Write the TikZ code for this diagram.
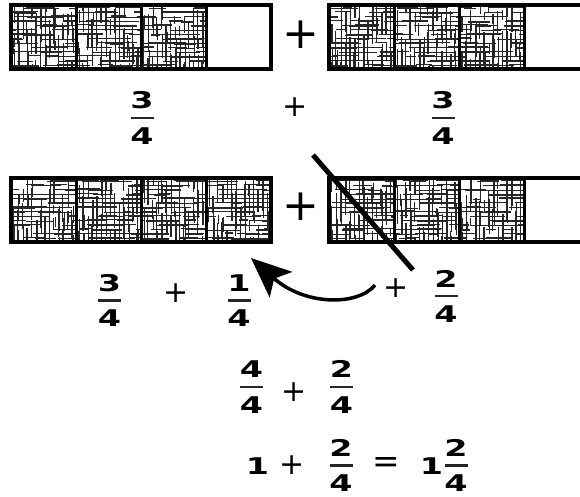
\documentclass[tikz,border=0pt]{standalone}
\usepackage{fontspec}
\usetikzlibrary{arrows.meta, positioning}
\newfontfamily\digfont{DejaVu Sans}[FakeStretch=1.45]
\newfontfamily\opfont{DejaVu Sans}

% one shaded cell: broken grid strokes, clipped to the cell
\newcommand{\hatchcell}[2]{%
  \begin{scope}
    \clip ({#1},{#2}) rectangle ++(65,64);
    \foreach \j in {0,...,13} {
      \foreach \s in {1,...,4} {
        \draw[hatch] ({#1+70*rnd-8},{#2+3+4.4*\j+0.8*rand}) -- ++({8+30*rnd},0);
        \draw[hatch] ({#1+3+4.5*\j+0.8*rand},{#2+70*rnd-8}) -- ++(0,{8+30*rnd});
      }
    }
  \end{scope}}
% a strip of four quarters, #3 of them shaded
\newcommand{\strip}[3]{%
  \foreach \c in {1,...,#3} {\hatchcell{#1+65*(\c-1)}{#2}}
  \foreach \c in {0,...,3} {\draw[cell] ({#1+65*\c},{#2}) rectangle ++(65,64);}
  \draw[line width=4pt] ({#1},{#2}) rectangle ++(260,64);}
% fraction: bar node #1 at #2, numerator #3, denominator #4
\newcommand{\frc}[4]{%
  \node[fbar] (#1) at (#2) {};
  \node[num, above=7.5pt of #1] (#1n) {#3};
  \node[num, below=8pt of #1] (#1d) {#4};}

\begin{document}
\begin{tikzpicture}[x=1pt, y=-1pt,
    num/.style={font=\digfont\bfseries\fontsize{23}{23}\selectfont, inner sep=0pt, text height=16.8pt, text depth=0pt},
    fbar/.style={fill=black!85, inner sep=0pt, minimum width=23pt, minimum height=2.2pt},
    op/.style={font=\opfont\fontsize{30}{30}\selectfont, inner sep=0pt},
    bigop/.style={font=\opfont\fontsize{44}{44}\selectfont, inner sep=0pt},
    hatch/.style={line width=1.2pt, black!85},
    cell/.style={draw, line width=3pt}]
    \clip (0,0) rectangle (580,496);
    \fill[white] (0,0) rectangle (580,496);
    \pgfmathsetseed{11}

    % strips
    \strip{11}{5}{3}
    \strip{329}{5}{3}
    \strip{11}{178}{4}
    \strip{329}{178}{3}
    \node[bigop] (p1) at (301,35) {+};
    \node[bigop] (p2) at (301,207) {+};

    % first line
    \frc{a}{142,117.7}{3}{4}
    \node[op] (q1) at (295.5,107) {+};
    \frc{b}{443,117.7}{3}{4}

    % crossed out quarter and moved one
    \coordinate (s1) at (313,155);
    \coordinate (s2) at (413,270);
    \draw[line width=5pt] (s1) -- (s2);
    \coordinate (from) at (375,285);
    \coordinate (to) at (251,258);
    \draw[line width=3.5pt, -{Stealth[length=40pt, width=34pt, inset=9pt]}]
        (from) .. controls (358,306) and (305,306) .. (to);

    % second line
    \frc{c}{109.5,300.5}{3}{4}
    \node[op] (q2) at (176.5,293) {+};
    \frc{d}{239,300.5}{1}{4}
    \node[op] (q3) at (396.5,288) {+};
    \frc{e}{446,296}{2}{4}

    % third line
    \frc{f}{251.5,386.7}{4}{4}
    \node[op] (q4) at (294,392) {+};
    \frc{g}{341.5,386.7}{2}{4}

    % result
    \node[num] (one) at (257.5,466) {1};
    \node[op] (q5) at (292.5,465) {+};
    \frc{h}{341,465.5}{2}{4}
    \node[op, font=\opfont\fontsize{33}{33}\selectfont] (eq) at (386,465) {=};
    \node[num] (whole) at (431.5,466) {1};
    \frc{i}{456,465.5}{2}{4}
\end{tikzpicture}
\end{document}
